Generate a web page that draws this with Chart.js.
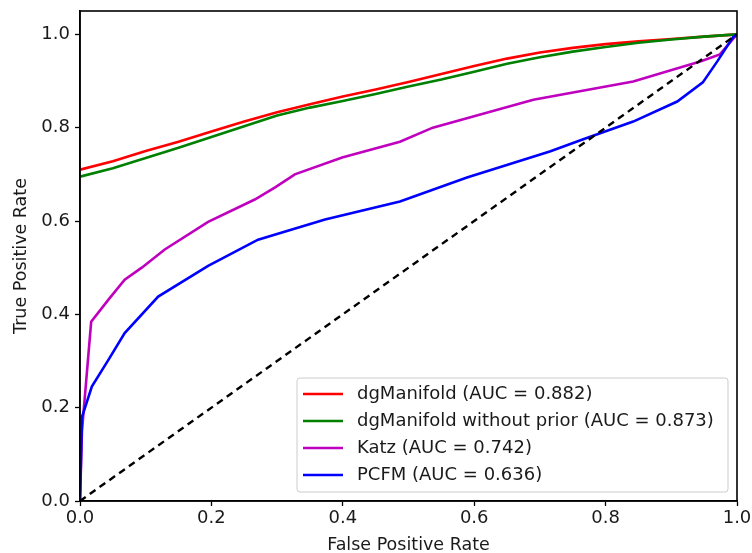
<!DOCTYPE html>
<html>
<head>
<meta charset="utf-8">
<script src="https://cdn.jsdelivr.net/npm/chart.js@4/dist/chart.umd.min.js"></script>
<style>
  html, body { margin: 0; padding: 0; background: #fff; }
  #wrap { width: 752px; height: 553px; }
</style>
</head>
<body>
<div id="wrap"><canvas id="roc" width="752" height="553"></canvas></div>
<script>
// ROC curves
const fprManifold = [0, 0.05, 0.1, 0.15, 0.2, 0.25, 0.3, 0.35, 0.4, 0.45, 0.5, 0.55, 0.6, 0.65, 0.7, 0.75, 0.8, 0.85, 0.9, 0.95, 1];
const tprManifold = [0.71, 0.728, 0.75, 0.77, 0.792, 0.813, 0.833, 0.85, 0.867, 0.882, 0.898, 0.915, 0.932, 0.948, 0.961, 0.971, 0.979, 0.985, 0.99, 0.995, 1];

const fprNoPrior = [0, 0.05, 0.1, 0.15, 0.2, 0.25, 0.3, 0.35, 0.4, 0.45, 0.5, 0.55, 0.6, 0.65, 0.7, 0.75, 0.8, 0.85, 0.9, 0.95, 1];
const tprNoPrior = [0.695, 0.713, 0.735, 0.757, 0.78, 0.803, 0.826, 0.843, 0.857, 0.872, 0.888, 0.903, 0.92, 0.937, 0.951, 0.963, 0.973, 0.982, 0.989, 0.995, 1];

const fprKatz = [0, 0.003, 0.017, 0.043, 0.068, 0.094, 0.129, 0.195, 0.266, 0.297, 0.327, 0.399, 0.487, 0.537, 0.69, 0.842, 0.944, 0.974, 1];
const tprKatz = [0, 0.15, 0.384, 0.431, 0.474, 0.5, 0.539, 0.598, 0.646, 0.672, 0.7, 0.736, 0.77, 0.8, 0.86, 0.899, 0.942, 0.957, 1];

const fprPcfm = [0, 0.003, 0.018, 0.043, 0.068, 0.119, 0.195, 0.271, 0.373, 0.487, 0.589, 0.715, 0.766, 0.842, 0.909, 0.948, 0.97, 0.994, 1];
const tprPcfm = [0, 0.18, 0.245, 0.302, 0.36, 0.438, 0.504, 0.56, 0.603, 0.642, 0.693, 0.749, 0.775, 0.813, 0.856, 0.897, 0.942, 0.994, 1];

const fprChance = [0, 1];
const tprChance = [0, 1];

const seriesNames = [
  'dgManifold (AUC = 0.882)',
  'dgManifold without prior (AUC = 0.873)',
  'Katz (AUC = 0.742)',
  'PCFM (AUC = 0.636)'
];
const seriesColors = ['#ff0000', '#008000', '#bf00bf', '#0000ff'];

const xTicks = [0, 0.2, 0.4, 0.6, 0.8, 1.0];
const yTicks = [0, 0.2, 0.4, 0.6, 0.8, 1.0];

const FONT = 'DejaVu Sans';
const TEXT = '#1a1a1a';

function toPoints(xs, ys) {
  return xs.map((x, i) => ({ x: x, y: ys[i] }));
}

function curve(label, xs, ys, color, order) {
  return {
    label: label,
    data: toPoints(xs, ys),
    borderColor: color,
    backgroundColor: color,
    borderWidth: 2.6,
    pointRadius: 0,
    tension: 0,
    order: order
  };
}

// legend box sitting in the lower right of the plot, like matplotlib's
const boxLegend = {
  id: 'boxLegend',
  afterDraw(chart) {
    const ctx = chart.ctx;
    const area = chart.chartArea;
    const w = 431, h = 114;
    const x0 = area.right - 9 - w;
    const y0 = area.bottom - 9 - h;
    ctx.save();
    ctx.beginPath();
    ctx.roundRect(x0, y0, w, h, 3);
    ctx.fillStyle = 'rgba(255,255,255,0.85)';
    ctx.fill();
    ctx.strokeStyle = '#cccccc';
    ctx.lineWidth = 1;
    ctx.stroke();
    ctx.font = '18px "' + FONT + '"';
    ctx.textBaseline = 'middle';
    ctx.fillStyle = TEXT;
    seriesNames.forEach((name, i) => {
      const y = y0 + 16 + i * 27;
      ctx.beginPath();
      ctx.moveTo(x0 + 6, y);
      ctx.lineTo(x0 + 46, y);
      ctx.strokeStyle = seriesColors[i];
      ctx.lineWidth = 2.6;
      ctx.stroke();
      ctx.fillText(name, x0 + 60, y);
    });
    ctx.restore();
  }
};

// black frame round the plot
const frame = {
  id: 'frame',
  afterDatasetsDraw(chart) {
    const ctx = chart.ctx;
    const a = chart.chartArea;
    ctx.save();
    ctx.strokeStyle = '#000';
    ctx.lineWidth = 1.6;
    ctx.strokeRect(a.left, a.top, a.right - a.left, a.bottom - a.top);
    ctx.restore();
  }
};

new Chart(document.getElementById('roc').getContext('2d'), {
  type: 'line',
  data: {
    datasets: [
      curve(seriesNames[0], fprManifold, tprManifold, seriesColors[0], 5),
      curve(seriesNames[1], fprNoPrior, tprNoPrior, seriesColors[1], 4),
      curve(seriesNames[2], fprKatz, tprKatz, seriesColors[2], 3),
      curve(seriesNames[3], fprPcfm, tprPcfm, seriesColors[3], 2),
      {
        label: 'chance',
        data: toPoints(fprChance, tprChance),
        borderColor: '#000',
        borderWidth: 2.4,
        borderDash: [7, 5],
        pointRadius: 0,
        order: 1
      }
    ]
  },
  options: {
    responsive: false,
    animation: false,
    layout: { padding: { top: 11, right: 15, left: 0, bottom: 0 } },
    plugins: {
      legend: { display: false },
      tooltip: { enabled: false }
    },
    scales: {
      x: {
        type: 'linear',
        min: 0,
        max: 1,
        afterBuildTicks: s => { s.ticks = xTicks.map(v => ({ value: v })); },
        afterFit: s => { s.height = 52; s.paddingLeft = 0; s.paddingRight = 0; },
        grid: { drawOnChartArea: false, drawTicks: true, tickLength: 5, tickWidth: 1.3, color: '#000' },
        border: { display: true, color: '#000', width: 1.6 },
        ticks: {
          color: TEXT,
          padding: 2,
          maxRotation: 0,
          font: { family: FONT, size: 18 },
          callback: v => v.toFixed(1)
        },
        title: {
          display: true,
          text: 'False Positive Rate',
          color: TEXT,
          padding: { top: 0, bottom: -3 },
          font: { family: FONT, size: 17.5 }
        }
      },
      y: {
        type: 'linear',
        min: 0,
        max: 1.05,
        afterBuildTicks: s => { s.ticks = yTicks.map(v => ({ value: v })); },
        afterFit: s => { s.width = 80; s.paddingTop = 0; s.paddingBottom = 0; },
        grid: { drawOnChartArea: false, drawTicks: true, tickLength: 5, tickWidth: 1.3, color: '#000' },
        border: { display: true, color: '#000', width: 1.6 },
        ticks: {
          color: TEXT,
          padding: 5,
          font: { family: FONT, size: 18 },
          callback: v => v.toFixed(1)
        },
        title: {
          display: true,
          text: 'True Positive Rate',
          color: TEXT,
          padding: { top: 11, bottom: 4 },
          font: { family: FONT, size: 17.5 }
        }
      }
    }
  },
  plugins: [boxLegend, frame]
});
</script>
</body>
</html>
